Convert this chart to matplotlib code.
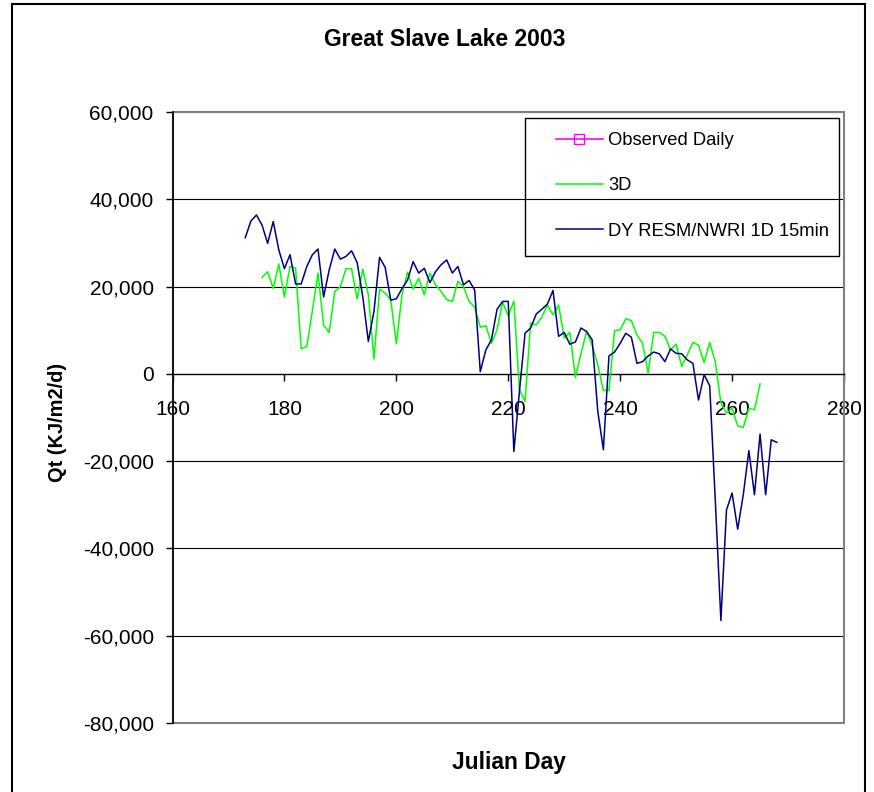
import matplotlib
matplotlib.use("Agg")
import matplotlib.pyplot as plt
from matplotlib.patches import Rectangle
from matplotlib.ticker import FuncFormatter, MultipleLocator
import numpy as np

plt.rcParams['font.family'] = ['Liberation Sans', 'DejaVu Sans']

# Julian days and net heat flux (KJ/m2/d)
days_1d = np.arange(173, 269)
qt_1d = np.array([
    31.2, 35.0, 36.4, 34.1, 29.9, 34.9, 28.4, 24.1, 27.3, 20.6,
    20.6, 24.6, 27.3, 28.6, 17.6, 23.8, 28.6, 26.3, 26.9, 28.2,
    25.5, 17.7, 7.4, 14.3, 26.7, 24.4, 16.9, 17.2, 19.5, 21.5,
    25.7, 23.1, 24.2, 20.9, 23.4, 25.0, 26.1, 23.1, 24.6, 20.4,
    21.4, 19.2, 0.5, 5.5, 7.8, 14.8, 16.6, 16.6, -17.8, -4.0,
    9.3, 10.5, 13.7, 14.8, 16.0, 19.1, 8.6, 9.5, 6.8, 7.3,
    10.5, 9.7, 7.8, -8.6, -17.4, 4.1, 5.0, 7.0, 9.3, 8.4,
    2.4, 2.8, 4.1, 5.0, 4.6, 2.8, 5.7, 4.7, 4.6, 3.2,
    2.4, -6.0, -0.2, -2.7, -29.0, -56.5, -31.2, -27.3, -35.6, -27.7,
    -17.6, -27.7, -13.8, -27.7, -15.1, -15.7,
]) * 1000

days_3d = np.arange(176, 266)
qt_3d = np.array([
    22.1, 23.4, 19.6, 25.2, 17.6, 24.6, 24.2, 5.7, 6.3, 14.5,
    23.1, 11.2, 9.5, 18.9, 20.0, 24.1, 24.1, 17.2, 24.0, 18.1,
    3.4, 19.4, 18.5, 17.0, 6.9, 18.0, 23.3, 19.4, 21.9, 18.1,
    23.1, 20.4, 18.9, 17.0, 16.6, 21.2, 20.0, 16.6, 15.3, 10.7,
    11.0, 7.0, 10.1, 16.4, 13.3, 16.7, -3.7, -6.3, 11.6, 11.2,
    13.0, 15.8, 13.5, 15.8, 8.2, 9.5, -0.8, 4.7, 9.7, 6.6,
    2.0, -3.8, -3.8, 9.9, 10.1, 12.6, 12.2, 8.9, 7.0, 0.2,
    9.5, 9.5, 8.6, 5.5, 6.8, 1.7, 4.4, 7.2, 6.6, 2.6,
    7.2, 2.8, -6.7, -9.0, -7.9, -11.9, -12.3, -7.9, -8.2, -2.3,
]) * 1000

observed_days = []
observed_daily = []

W, H = 874, 792
fig = plt.figure(figsize=(W / 100, H / 100), dpi=100)
ax = fig.add_axes([172.5 / W, 1 - 723 / H, (844 - 172.5) / W, (723 - 112) / H])

ax.set_xlim(160, 280)
ax.set_ylim(-80000, 60000)
ax.xaxis.set_major_locator(MultipleLocator(20))
ax.yaxis.set_major_locator(MultipleLocator(20000))
ax.yaxis.set_major_formatter(FuncFormatter(lambda v, p: f"{int(v):,}"))

# horizontal gridlines
for yv in np.arange(-60000, 60001, 20000):
    if yv != 0:
        ax.axhline(yv, color='black', lw=0.8, zorder=1)

# plot-area border
ax.add_patch(Rectangle((0, 0), 1, 1, transform=ax.transAxes, fill=False,
                       edgecolor='#808080', lw=1.5, zorder=2, clip_on=False))

for s in ['top', 'right']:
    ax.spines[s].set_visible(False)
ax.spines['bottom'].set_position(('data', 0))
ax.spines['bottom'].set_color('black')
ax.spines['bottom'].set_linewidth(1.0)
ax.spines['left'].set_color('black')
ax.spines['left'].set_linewidth(1.2)
ax.spines['left'].set_zorder(4)

ax.tick_params(axis='x', direction='out', length=5, width=1, pad=13.5,
               labelsize=15, colors='black')
ax.tick_params(axis='y', direction='out', length=5, width=1, pad=8.5,
               labelsize=15, colors='black')

ax.plot(observed_days, observed_daily, color='#FF00FF', lw=1.2, marker='s',
        markersize=7.5, markerfacecolor='none', markeredgecolor='#FF00FF',
        label='Observed Daily', zorder=5)
ax.plot(days_3d, qt_3d, color='#00FF00', lw=1.1, label='3D', zorder=5)
ax.plot(days_1d, qt_1d, color='#000080', lw=1.1,
        label='DY RESM/NWRI 1D 15min', zorder=6)

leg = ax.legend(loc='upper left', bbox_to_anchor=(556 / W, 1 - 132 / H),
                bbox_transform=fig.transFigure, frameon=False, fontsize=13.2,
                borderpad=0, borderaxespad=0, handlelength=2.55,
                handletextpad=0.3, labelspacing=1.55, numpoints=1)
fig.patches.append(Rectangle((525 / W, 1 - 256 / H), (839 - 525) / W, (256 - 118) / H,
                             transform=fig.transFigure, fill=False,
                             edgecolor='black', lw=1.0, zorder=10))

fig.text(445 / W, 1 - 40 / H, 'Great Slave Lake 2003', ha='center', va='center',
         fontsize=16.5, fontweight='bold')
fig.text(509 / W, 1 - 762 / H, 'Julian Day', ha='center', va='center',
         fontsize=16.4, fontweight='bold')
fig.text(58 / W, 1 - 422.5 / H, 'Qt (KJ/m2/d)', ha='center', va='center',
         rotation=90, fontsize=14.4, fontweight='bold')

# chart frame
fig.patches.append(Rectangle((12 / W, -0.05), (865 - 12) / W, 1.05 - 4 / H,
                             transform=fig.transFigure, fill=False,
                             edgecolor='black', lw=1.5))

fig.savefig('out.png', dpi=100)
